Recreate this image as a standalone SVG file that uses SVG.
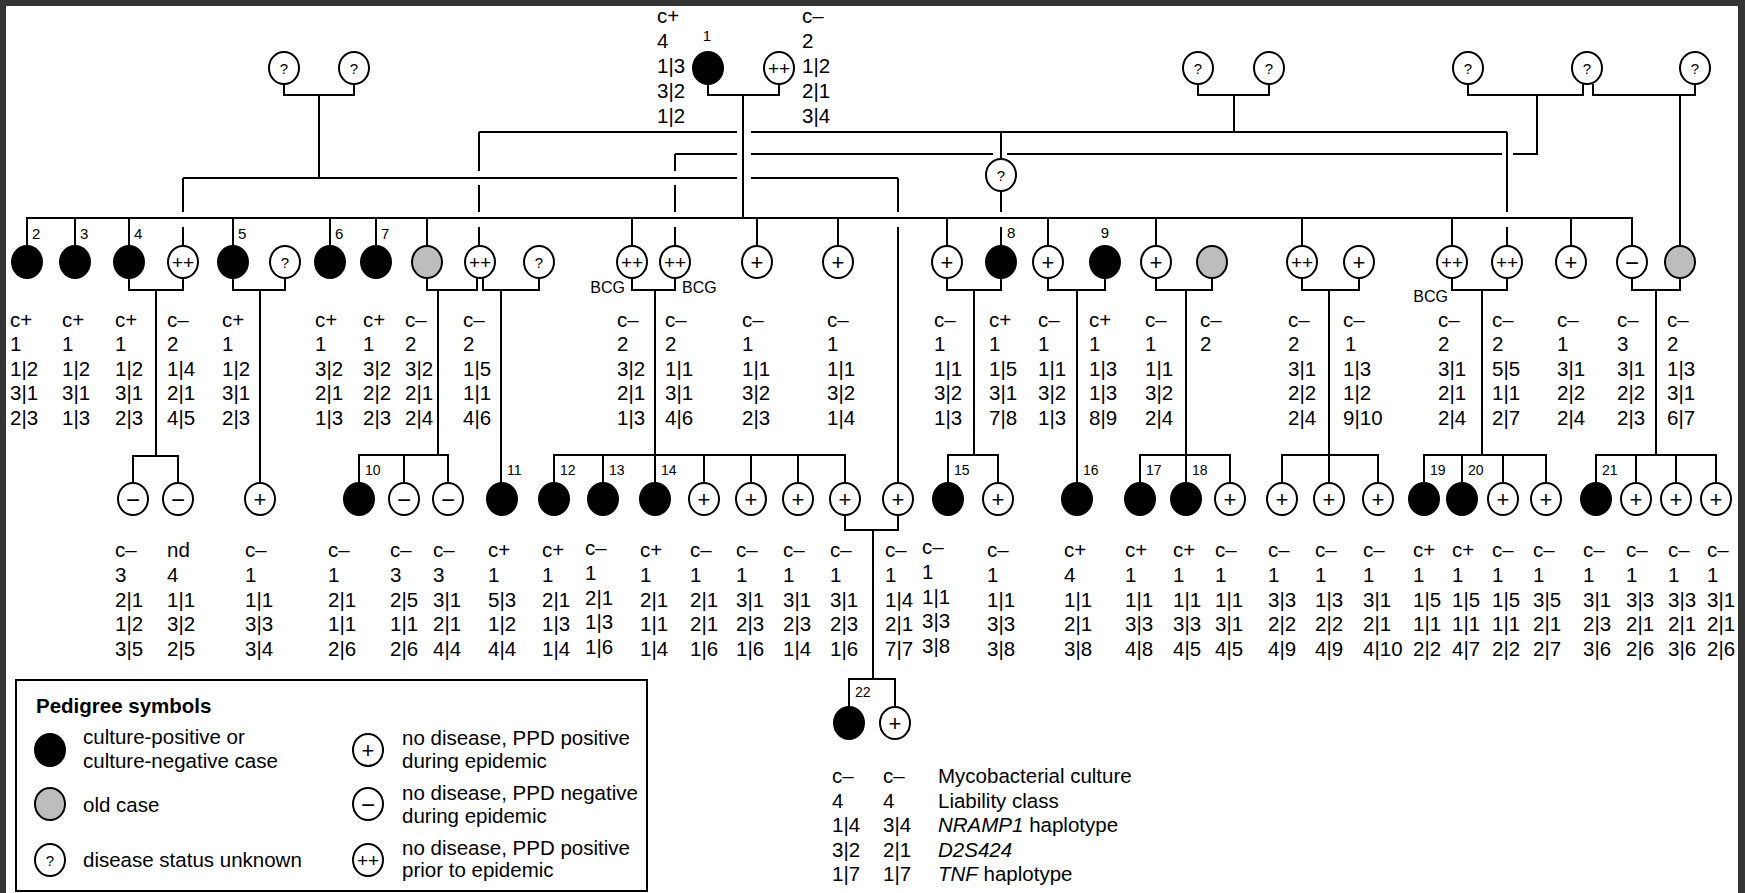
<svg xmlns="http://www.w3.org/2000/svg" width="1745" height="893" viewBox="0 0 1745 893">
<defs>
<style>
.e{stroke:#000;stroke-width:2}
.a{fill:#000}
.o{fill:#bdbdbd}
.w{fill:#fff}
.s{font-family:"Liberation Sans",Arial,sans-serif;text-anchor:middle;dominant-baseline:central;fill:#000}
.q{font-size:15px}
.p{font-size:22px}
.pp{font-size:19px}
.m{font-size:24px}
.l{font-family:"Liberation Sans",Arial,sans-serif;font-size:15px}
.l2{font-family:"Liberation Sans",Arial,sans-serif;font-size:14px}
.b{font-family:"Liberation Sans",Arial,sans-serif;font-size:16px}
.d{font-family:"Liberation Sans",Arial,sans-serif;font-size:20.5px}
.lk path{stroke:#000;stroke-width:2;fill:none}
</style>
</defs>
<rect x="0" y="0" width="1745" height="893" fill="#353535"/>
<rect x="6" y="6" width="1732" height="887" fill="#fff"/>

<g id="connectors" class="lk">
<path d="M284 84V95H354V84M319 95V178"/>
<path d="M183 178H737M751 178H898"/>
<path d="M183 178V212M183 227V246"/>
<path d="M898 178V212M898 227V483"/>
<path d="M708 84V95H779V84M743 95V218"/>
<path d="M479 132H737M751 132H1507"/>
<path d="M479 132V171M479 185V212M479 227V246"/>
<path d="M1198 84V95H1269V84M1234 95V132"/>
<path d="M1001 132V159M1001 191V212M1001 227V246"/>
<path d="M1507 132V212M1507 227V246"/>
<path d="M675 154H737M751 154H993M1007 154H1502M1513 154H1537V95"/>
<path d="M675 154V171M675 185V212M675 227V246"/>
<path d="M1468 84V95H1583V84M1593 84V95H1695V84M1680 95V246"/>
<path d="M27 246V218H1632V246M75 218V246M129 218V246M233 218V246M330 218V246M376 218V246M427 218V246M632 218V246M757 218V246M838 218V246M947 218V246M1048 218V246M1156 218V246M1302 218V246M1452 218V246M1571 218V246"/>
<path d="M129 278V290H183V278M156 290V456M133 483V456H178V483"/>
<path d="M233 278V290H285V278M260 290V483"/>
<path d="M427 278V290H477V278M483 278V290H539V278M438 290V455M359 483V455H448V483M404 455V483M501 290V483"/>
<path d="M632 278V290H675V278M655 290V483M554 483V455H845V483M603 455V483M704 455V483M751 455V483M798 455V483"/>
<path d="M947 278V290H1001V278M974 290V455M948 483V455H998V483"/>
<path d="M1048 278V290H1105V278M1077 290V483"/>
<path d="M1156 278V290H1212V278M1186 290V483M1140 483V455H1230V483"/>
<path d="M1302 278V290H1359V278M1329 290V483M1282 483V455H1378V483"/>
<path d="M1452 278V290H1507V278M1482 290V455M1424 483V455H1546V483M1462 455V483M1503 455V483"/>
<path d="M1632 278V290H1680V278M1656 290V455M1596 483V455H1716V483M1636 455V483M1676 455V483"/>
<path d="M845 515V530H898V515M873 530V679M849 707V679H895V707"/>
</g>

<!-- Generation I -->
<g id="n-u1"><ellipse class="e w" cx="284" cy="68" rx="15" ry="16"/><text class="s q" x="284" y="68">?</text></g>
<g id="n-u2"><ellipse class="e w" cx="354" cy="68" rx="15" ry="16"/><text class="s q" x="354" y="68">?</text></g>
<g id="n-1"><ellipse class="e a" cx="708" cy="68" rx="15" ry="16"/><text class="l" x="707" y="41" text-anchor="middle" font-size="13">1</text>
<text class="d"><tspan x="657" y="23">c+</tspan><tspan x="657" y="48">4</tspan><tspan x="657" y="73">1|3</tspan><tspan x="657" y="98">3|2</tspan><tspan x="657" y="122.5">1|2</tspan></text></g>
<g id="n-1s"><ellipse class="e w" cx="779" cy="68" rx="15" ry="16"/><text class="s pp" x="779" y="68">++</text>
<text class="d"><tspan x="802" y="23">c–</tspan><tspan x="802" y="48">2</tspan><tspan x="802" y="73">1|2</tspan><tspan x="802" y="98">2|1</tspan><tspan x="802" y="122.5">3|4</tspan></text></g>
<g id="n-u3"><ellipse class="e w" cx="1198" cy="68" rx="15" ry="16"/><text class="s q" x="1198" y="68">?</text></g>
<g id="n-u4"><ellipse class="e w" cx="1269" cy="68" rx="15" ry="16"/><text class="s q" x="1269" y="68">?</text></g>
<g id="n-u5"><ellipse class="e w" cx="1468" cy="68" rx="15" ry="16"/><text class="s q" x="1468" y="68">?</text></g>
<g id="n-u6"><ellipse class="e w" cx="1587" cy="68" rx="15" ry="16"/><text class="s q" x="1587" y="68">?</text></g>
<g id="n-u7"><ellipse class="e w" cx="1695" cy="68" rx="15" ry="16"/><text class="s q" x="1695" y="68">?</text></g>
<g id="n-u8"><ellipse class="e w" cx="1001" cy="175" rx="15" ry="16"/><text class="s q" x="1001" y="175">?</text></g>

<!-- Generation II -->
<g id="n-2"><ellipse class="e a" cx="27" cy="262" rx="15" ry="16"/><text class="l" x="32" y="239">2</text>
<text class="d"><tspan x="10" y="326.5">c+</tspan><tspan x="10" y="351">1</tspan><tspan x="10" y="375.5">1|2</tspan><tspan x="10" y="400">3|1</tspan><tspan x="10" y="424.5">2|3</tspan></text></g>
<g id="n-3"><ellipse class="e a" cx="75" cy="262" rx="15" ry="16"/><text class="l" x="80" y="239">3</text>
<text class="d"><tspan x="62" y="326.5">c+</tspan><tspan x="62" y="351">1</tspan><tspan x="62" y="375.5">1|2</tspan><tspan x="62" y="400">3|1</tspan><tspan x="62" y="424.5">1|3</tspan></text></g>
<g id="n-4"><ellipse class="e a" cx="129" cy="262" rx="15" ry="16"/><text class="l" x="134" y="239">4</text>
<text class="d"><tspan x="115" y="326.5">c+</tspan><tspan x="115" y="351">1</tspan><tspan x="115" y="375.5">1|2</tspan><tspan x="115" y="400">3|1</tspan><tspan x="115" y="424.5">2|3</tspan></text></g>
<g id="n-4s"><ellipse class="e w" cx="183" cy="262" rx="15" ry="16"/><text class="s pp" x="183" y="262">++</text>
<text class="d"><tspan x="167" y="326.5">c–</tspan><tspan x="167" y="351">2</tspan><tspan x="167" y="375.5">1|4</tspan><tspan x="167" y="400">2|1</tspan><tspan x="167" y="424.5">4|5</tspan></text></g>
<g id="n-5"><ellipse class="e a" cx="233" cy="262" rx="15" ry="16"/><text class="l" x="238" y="239">5</text>
<text class="d"><tspan x="222" y="326.5">c+</tspan><tspan x="222" y="351">1</tspan><tspan x="222" y="375.5">1|2</tspan><tspan x="222" y="400">3|1</tspan><tspan x="222" y="424.5">2|3</tspan></text></g>
<g id="n-5s"><ellipse class="e w" cx="285" cy="262" rx="15" ry="16"/><text class="s q" x="285" y="262">?</text></g>
<g id="n-6"><ellipse class="e a" cx="330" cy="262" rx="15" ry="16"/><text class="l" x="335" y="239">6</text>
<text class="d"><tspan x="315" y="326.5">c+</tspan><tspan x="315" y="351">1</tspan><tspan x="315" y="375.5">3|2</tspan><tspan x="315" y="400">2|1</tspan><tspan x="315" y="424.5">1|3</tspan></text></g>
<g id="n-7"><ellipse class="e a" cx="376" cy="262" rx="15" ry="16"/><text class="l" x="381" y="239">7</text>
<text class="d"><tspan x="363" y="326.5">c+</tspan><tspan x="363" y="351">1</tspan><tspan x="363" y="375.5">3|2</tspan><tspan x="363" y="400">2|2</tspan><tspan x="363" y="424.5">2|3</tspan></text></g>
<g id="n-g2a"><ellipse class="e o" cx="427" cy="262" rx="15" ry="16"/>
<text class="d"><tspan x="405" y="326.5">c–</tspan><tspan x="405" y="351">2</tspan><tspan x="405" y="375.5">3|2</tspan><tspan x="405" y="400">2|1</tspan><tspan x="405" y="424.5">2|4</tspan></text></g>
<g id="n-g2b"><ellipse class="e w" cx="480" cy="262" rx="15" ry="16"/><text class="s pp" x="480" y="262">++</text>
<text class="d"><tspan x="463" y="326.5">c–</tspan><tspan x="463" y="351">2</tspan><tspan x="463" y="375.5">1|5</tspan><tspan x="463" y="400">1|1</tspan><tspan x="463" y="424.5">4|6</tspan></text></g>
<g id="n-g2c"><ellipse class="e w" cx="539" cy="262" rx="15" ry="16"/><text class="s q" x="539" y="262">?</text></g>
<g id="n-g2d"><ellipse class="e w" cx="632" cy="262" rx="15" ry="16"/><text class="s pp" x="632" y="262">++</text><text class="b" x="625" y="293" text-anchor="end">BCG</text>
<text class="d"><tspan x="617" y="326.5">c–</tspan><tspan x="617" y="351">2</tspan><tspan x="617" y="375.5">3|2</tspan><tspan x="617" y="400">2|1</tspan><tspan x="617" y="424.5">1|3</tspan></text></g>
<g id="n-g2e"><ellipse class="e w" cx="675" cy="262" rx="15" ry="16"/><text class="s pp" x="675" y="262">++</text><text class="b" x="682" y="293">BCG</text>
<text class="d"><tspan x="665" y="326.5">c–</tspan><tspan x="665" y="351">2</tspan><tspan x="665" y="375.5">1|1</tspan><tspan x="665" y="400">3|1</tspan><tspan x="665" y="424.5">4|6</tspan></text></g>
<g id="n-g2f"><ellipse class="e w" cx="757" cy="262" rx="15" ry="16"/><text class="s p" x="757" y="262">+</text>
<text class="d"><tspan x="742" y="326.5">c–</tspan><tspan x="742" y="351">1</tspan><tspan x="742" y="375.5">1|1</tspan><tspan x="742" y="400">3|2</tspan><tspan x="742" y="424.5">2|3</tspan></text></g>
<g id="n-g2g"><ellipse class="e w" cx="838" cy="262" rx="15" ry="16"/><text class="s p" x="838" y="262">+</text>
<text class="d"><tspan x="827" y="326.5">c–</tspan><tspan x="827" y="351">1</tspan><tspan x="827" y="375.5">1|1</tspan><tspan x="827" y="400">3|2</tspan><tspan x="827" y="424.5">1|4</tspan></text></g>
<g id="n-g2h"><ellipse class="e w" cx="947" cy="262" rx="15" ry="16"/><text class="s p" x="947" y="262">+</text>
<text class="d"><tspan x="934" y="326.5">c–</tspan><tspan x="934" y="351">1</tspan><tspan x="934" y="375.5">1|1</tspan><tspan x="934" y="400">3|2</tspan><tspan x="934" y="424.5">1|3</tspan></text></g>
<g id="n-8"><ellipse class="e a" cx="1001" cy="262" rx="15" ry="16"/><text class="l" x="1007" y="238">8</text>
<text class="d"><tspan x="989" y="326.5">c+</tspan><tspan x="989" y="351">1</tspan><tspan x="989" y="375.5">1|5</tspan><tspan x="989" y="400">3|1</tspan><tspan x="989" y="424.5">7|8</tspan></text></g>
<g id="n-g2i"><ellipse class="e w" cx="1048" cy="262" rx="15" ry="16"/><text class="s p" x="1048" y="262">+</text>
<text class="d"><tspan x="1038" y="326.5">c–</tspan><tspan x="1038" y="351">1</tspan><tspan x="1038" y="375.5">1|1</tspan><tspan x="1038" y="400">3|2</tspan><tspan x="1038" y="424.5">1|3</tspan></text></g>
<g id="n-9"><ellipse class="e a" cx="1105" cy="262" rx="15" ry="16"/><text class="l" x="1105" y="238" text-anchor="middle">9</text>
<text class="d"><tspan x="1089" y="326.5">c+</tspan><tspan x="1089" y="351">1</tspan><tspan x="1089" y="375.5">1|3</tspan><tspan x="1089" y="400">1|3</tspan><tspan x="1089" y="424.5">8|9</tspan></text></g>
<g id="n-g2j"><ellipse class="e w" cx="1156" cy="262" rx="15" ry="16"/><text class="s p" x="1156" y="262">+</text>
<text class="d"><tspan x="1145" y="326.5">c–</tspan><tspan x="1145" y="351">1</tspan><tspan x="1145" y="375.5">1|1</tspan><tspan x="1145" y="400">3|2</tspan><tspan x="1145" y="424.5">2|4</tspan></text></g>
<g id="n-g2k"><ellipse class="e o" cx="1212" cy="262" rx="15" ry="16"/>
<text class="d"><tspan x="1200" y="326.5">c–</tspan><tspan x="1200" y="351">2</tspan></text></g>
<g id="n-g2l"><ellipse class="e w" cx="1302" cy="262" rx="15" ry="16"/><text class="s pp" x="1302" y="262">++</text>
<text class="d"><tspan x="1288" y="326.5">c–</tspan><tspan x="1288" y="351">2</tspan><tspan x="1288" y="375.5">3|1</tspan><tspan x="1288" y="400">2|2</tspan><tspan x="1288" y="424.5">2|4</tspan></text></g>
<g id="n-g2m"><ellipse class="e w" cx="1359" cy="262" rx="15" ry="16"/><text class="s p" x="1359" y="262">+</text>
<text class="d"><tspan x="1343" y="326.5">c–</tspan><tspan x="1345" y="351">1</tspan><tspan x="1343" y="375.5">1|3</tspan><tspan x="1343" y="400">1|2</tspan><tspan x="1343" y="424.5">9|10</tspan></text></g>
<g id="n-g2n"><ellipse class="e w" cx="1452" cy="262" rx="15" ry="16"/><text class="s pp" x="1452" y="262">++</text><text class="b" x="1448" y="302" text-anchor="end">BCG</text>
<text class="d"><tspan x="1438" y="326.5">c–</tspan><tspan x="1438" y="351">2</tspan><tspan x="1438" y="375.5">3|1</tspan><tspan x="1438" y="400">2|1</tspan><tspan x="1438" y="424.5">2|4</tspan></text></g>
<g id="n-g2o"><ellipse class="e w" cx="1507" cy="262" rx="15" ry="16"/><text class="s pp" x="1507" y="262">++</text>
<text class="d"><tspan x="1492" y="326.5">c–</tspan><tspan x="1492" y="351">2</tspan><tspan x="1492" y="375.5">5|5</tspan><tspan x="1492" y="400">1|1</tspan><tspan x="1492" y="424.5">2|7</tspan></text></g>
<g id="n-g2p"><ellipse class="e w" cx="1571" cy="262" rx="15" ry="16"/><text class="s p" x="1571" y="262">+</text>
<text class="d"><tspan x="1557" y="326.5">c–</tspan><tspan x="1557" y="351">1</tspan><tspan x="1557" y="375.5">3|1</tspan><tspan x="1557" y="400">2|2</tspan><tspan x="1557" y="424.5">2|4</tspan></text></g>
<g id="n-g2q"><ellipse class="e w" cx="1632" cy="262" rx="15" ry="16"/><text class="s m" x="1632" y="262">−</text>
<text class="d"><tspan x="1617" y="326.5">c–</tspan><tspan x="1617" y="351">3</tspan><tspan x="1617" y="375.5">3|1</tspan><tspan x="1617" y="400">2|2</tspan><tspan x="1617" y="424.5">2|3</tspan></text></g>
<g id="n-g2r"><ellipse class="e o" cx="1680" cy="262" rx="15" ry="16"/>
<text class="d"><tspan x="1667" y="326.5">c–</tspan><tspan x="1667" y="351">2</tspan><tspan x="1667" y="375.5">1|3</tspan><tspan x="1667" y="400">3|1</tspan><tspan x="1667" y="424.5">6|7</tspan></text></g>

<!-- Generation III -->
<g id="n-g3a"><ellipse class="e w" cx="133" cy="499" rx="15" ry="16"/><text class="s m" x="133" y="499">−</text>
<text class="d"><tspan x="115" y="557">c–</tspan><tspan x="115" y="582">3</tspan><tspan x="115" y="606.5">2|1</tspan><tspan x="115" y="631">1|2</tspan><tspan x="115" y="655.5">3|5</tspan></text></g>
<g id="n-g3b"><ellipse class="e w" cx="178" cy="499" rx="15" ry="16"/><text class="s m" x="178" y="499">−</text>
<text class="d"><tspan x="167" y="557">nd</tspan><tspan x="167" y="582">4</tspan><tspan x="167" y="606.5">1|1</tspan><tspan x="167" y="631">3|2</tspan><tspan x="167" y="655.5">2|5</tspan></text></g>
<g id="n-g3c"><ellipse class="e w" cx="260" cy="499" rx="15" ry="16"/><text class="s p" x="260" y="499">+</text>
<text class="d"><tspan x="245" y="557">c–</tspan><tspan x="245" y="582">1</tspan><tspan x="245" y="606.5">1|1</tspan><tspan x="245" y="631">3|3</tspan><tspan x="245" y="655.5">3|4</tspan></text></g>
<g id="n-10"><ellipse class="e a" cx="359" cy="499" rx="15" ry="16"/><text class="l2" x="365" y="475">10</text>
<text class="d"><tspan x="328" y="557">c–</tspan><tspan x="328" y="582">1</tspan><tspan x="328" y="606.5">2|1</tspan><tspan x="328" y="631">1|1</tspan><tspan x="328" y="655.5">2|6</tspan></text></g>
<g id="n-g3d"><ellipse class="e w" cx="404" cy="499" rx="15" ry="16"/><text class="s m" x="404" y="499">−</text>
<text class="d"><tspan x="390" y="557">c–</tspan><tspan x="390" y="582">3</tspan><tspan x="390" y="606.5">2|5</tspan><tspan x="390" y="631">1|1</tspan><tspan x="390" y="655.5">2|6</tspan></text></g>
<g id="n-g3e"><ellipse class="e w" cx="448" cy="499" rx="15" ry="16"/><text class="s m" x="448" y="499">−</text>
<text class="d"><tspan x="433" y="557">c–</tspan><tspan x="433" y="582">3</tspan><tspan x="433" y="606.5">3|1</tspan><tspan x="433" y="631">2|1</tspan><tspan x="433" y="655.5">4|4</tspan></text></g>
<g id="n-11"><ellipse class="e a" cx="502" cy="499" rx="15" ry="16"/><text class="l2" x="507" y="475">11</text>
<text class="d"><tspan x="488" y="557">c+</tspan><tspan x="488" y="582">1</tspan><tspan x="488" y="606.5">5|3</tspan><tspan x="488" y="631">1|2</tspan><tspan x="488" y="655.5">4|4</tspan></text></g>
<g id="n-12"><ellipse class="e a" cx="554" cy="499" rx="15" ry="16"/><text class="l2" x="560" y="475">12</text>
<text class="d"><tspan x="542" y="557">c+</tspan><tspan x="542" y="582">1</tspan><tspan x="542" y="606.5">2|1</tspan><tspan x="542" y="631">1|3</tspan><tspan x="542" y="655.5">1|4</tspan></text></g>
<g id="n-13"><ellipse class="e a" cx="603" cy="499" rx="15" ry="16"/><text class="l2" x="609" y="475">13</text>
<text class="d"><tspan x="585" y="555">c–</tspan><tspan x="585" y="580">1</tspan><tspan x="585" y="604.5">2|1</tspan><tspan x="585" y="629">1|3</tspan><tspan x="585" y="653.5">1|6</tspan></text></g>
<g id="n-14"><ellipse class="e a" cx="655" cy="499" rx="15" ry="16"/><text class="l2" x="661" y="475">14</text>
<text class="d"><tspan x="640" y="557">c+</tspan><tspan x="640" y="582">1</tspan><tspan x="640" y="606.5">2|1</tspan><tspan x="640" y="631">1|1</tspan><tspan x="640" y="655.5">1|4</tspan></text></g>
<g id="n-g3f"><ellipse class="e w" cx="704" cy="499" rx="15" ry="16"/><text class="s p" x="704" y="499">+</text>
<text class="d"><tspan x="690" y="557">c–</tspan><tspan x="690" y="582">1</tspan><tspan x="690" y="606.5">2|1</tspan><tspan x="690" y="631">2|1</tspan><tspan x="690" y="655.5">1|6</tspan></text></g>
<g id="n-g3g"><ellipse class="e w" cx="751" cy="499" rx="15" ry="16"/><text class="s p" x="751" y="499">+</text>
<text class="d"><tspan x="736" y="557">c–</tspan><tspan x="736" y="582">1</tspan><tspan x="736" y="606.5">3|1</tspan><tspan x="736" y="631">2|3</tspan><tspan x="736" y="655.5">1|6</tspan></text></g>
<g id="n-g3h"><ellipse class="e w" cx="798" cy="499" rx="15" ry="16"/><text class="s p" x="798" y="499">+</text>
<text class="d"><tspan x="783" y="557">c–</tspan><tspan x="783" y="582">1</tspan><tspan x="783" y="606.5">3|1</tspan><tspan x="783" y="631">2|3</tspan><tspan x="783" y="655.5">1|4</tspan></text></g>
<g id="n-g3i"><ellipse class="e w" cx="845" cy="499" rx="15" ry="16"/><text class="s p" x="845" y="499">+</text>
<text class="d"><tspan x="830" y="557">c–</tspan><tspan x="830" y="582">1</tspan><tspan x="830" y="606.5">3|1</tspan><tspan x="830" y="631">2|3</tspan><tspan x="830" y="655.5">1|6</tspan></text></g>
<g id="n-g3j"><ellipse class="e w" cx="898" cy="499" rx="15" ry="16"/><text class="s p" x="898" y="499">+</text>
<text class="d"><tspan x="885" y="557">c–</tspan><tspan x="885" y="582">1</tspan><tspan x="885" y="606.5">1|4</tspan><tspan x="885" y="631">2|1</tspan><tspan x="885" y="655.5">7|7</tspan></text></g>
<g id="n-15"><ellipse class="e a" cx="948" cy="499" rx="15" ry="16"/><text class="l2" x="954" y="475">15</text>
<text class="d"><tspan x="922" y="554">c–</tspan><tspan x="922" y="579">1</tspan><tspan x="922" y="603.5">1|1</tspan><tspan x="922" y="628">3|3</tspan><tspan x="922" y="652.5">3|8</tspan></text></g>
<g id="n-g3k"><ellipse class="e w" cx="998" cy="499" rx="15" ry="16"/><text class="s p" x="998" y="499">+</text>
<text class="d"><tspan x="987" y="557">c–</tspan><tspan x="987" y="582">1</tspan><tspan x="987" y="606.5">1|1</tspan><tspan x="987" y="631">3|3</tspan><tspan x="987" y="655.5">3|8</tspan></text></g>
<g id="n-16"><ellipse class="e a" cx="1077" cy="499" rx="15" ry="16"/><text class="l2" x="1083" y="475">16</text>
<text class="d"><tspan x="1064" y="557">c+</tspan><tspan x="1064" y="582">4</tspan><tspan x="1064" y="606.5">1|1</tspan><tspan x="1064" y="631">2|1</tspan><tspan x="1064" y="655.5">3|8</tspan></text></g>
<g id="n-17"><ellipse class="e a" cx="1140" cy="499" rx="15" ry="16"/><text class="l2" x="1146" y="475">17</text>
<text class="d"><tspan x="1125" y="557">c+</tspan><tspan x="1125" y="582">1</tspan><tspan x="1125" y="606.5">1|1</tspan><tspan x="1125" y="631">3|3</tspan><tspan x="1125" y="655.5">4|8</tspan></text></g>
<g id="n-18"><ellipse class="e a" cx="1186" cy="499" rx="15" ry="16"/><text class="l2" x="1192" y="475">18</text>
<text class="d"><tspan x="1173" y="557">c+</tspan><tspan x="1173" y="582">1</tspan><tspan x="1173" y="606.5">1|1</tspan><tspan x="1173" y="631">3|3</tspan><tspan x="1173" y="655.5">4|5</tspan></text></g>
<g id="n-g3l"><ellipse class="e w" cx="1230" cy="499" rx="15" ry="16"/><text class="s p" x="1230" y="499">+</text>
<text class="d"><tspan x="1215" y="557">c–</tspan><tspan x="1215" y="582">1</tspan><tspan x="1215" y="606.5">1|1</tspan><tspan x="1215" y="631">3|1</tspan><tspan x="1215" y="655.5">4|5</tspan></text></g>
<g id="n-g3m"><ellipse class="e w" cx="1282" cy="499" rx="15" ry="16"/><text class="s p" x="1282" y="499">+</text>
<text class="d"><tspan x="1268" y="557">c–</tspan><tspan x="1268" y="582">1</tspan><tspan x="1268" y="606.5">3|3</tspan><tspan x="1268" y="631">2|2</tspan><tspan x="1268" y="655.5">4|9</tspan></text></g>
<g id="n-g3n"><ellipse class="e w" cx="1329" cy="499" rx="15" ry="16"/><text class="s p" x="1329" y="499">+</text>
<text class="d"><tspan x="1315" y="557">c–</tspan><tspan x="1315" y="582">1</tspan><tspan x="1315" y="606.5">1|3</tspan><tspan x="1315" y="631">2|2</tspan><tspan x="1315" y="655.5">4|9</tspan></text></g>
<g id="n-g3o"><ellipse class="e w" cx="1378" cy="499" rx="15" ry="16"/><text class="s p" x="1378" y="499">+</text>
<text class="d"><tspan x="1363" y="557">c–</tspan><tspan x="1363" y="582">1</tspan><tspan x="1363" y="606.5">3|1</tspan><tspan x="1363" y="631">2|1</tspan><tspan x="1363" y="655.5">4|10</tspan></text></g>
<g id="n-19"><ellipse class="e a" cx="1424" cy="499" rx="15" ry="16"/><text class="l2" x="1430" y="475">19</text>
<text class="d"><tspan x="1413" y="557">c+</tspan><tspan x="1413" y="582">1</tspan><tspan x="1413" y="606.5">1|5</tspan><tspan x="1413" y="631">1|1</tspan><tspan x="1413" y="655.5">2|2</tspan></text></g>
<g id="n-20"><ellipse class="e a" cx="1462" cy="499" rx="15" ry="16"/><text class="l2" x="1468" y="475">20</text>
<text class="d"><tspan x="1452" y="557">c+</tspan><tspan x="1452" y="582">1</tspan><tspan x="1452" y="606.5">1|5</tspan><tspan x="1452" y="631">1|1</tspan><tspan x="1452" y="655.5">4|7</tspan></text></g>
<g id="n-g3p"><ellipse class="e w" cx="1503" cy="499" rx="15" ry="16"/><text class="s p" x="1503" y="499">+</text>
<text class="d"><tspan x="1492" y="557">c–</tspan><tspan x="1492" y="582">1</tspan><tspan x="1492" y="606.5">1|5</tspan><tspan x="1492" y="631">1|1</tspan><tspan x="1492" y="655.5">2|2</tspan></text></g>
<g id="n-g3q"><ellipse class="e w" cx="1546" cy="499" rx="15" ry="16"/><text class="s p" x="1546" y="499">+</text>
<text class="d"><tspan x="1533" y="557">c–</tspan><tspan x="1533" y="582">1</tspan><tspan x="1533" y="606.5">3|5</tspan><tspan x="1533" y="631">2|1</tspan><tspan x="1533" y="655.5">2|7</tspan></text></g>
<g id="n-21"><ellipse class="e a" cx="1596" cy="499" rx="15" ry="16"/><text class="l2" x="1602" y="475">21</text>
<text class="d"><tspan x="1583" y="557">c–</tspan><tspan x="1583" y="582">1</tspan><tspan x="1583" y="606.5">3|1</tspan><tspan x="1583" y="631">2|3</tspan><tspan x="1583" y="655.5">3|6</tspan></text></g>
<g id="n-g3r"><ellipse class="e w" cx="1636" cy="499" rx="15" ry="16"/><text class="s p" x="1636" y="499">+</text>
<text class="d"><tspan x="1626" y="557">c–</tspan><tspan x="1626" y="582">1</tspan><tspan x="1626" y="606.5">3|3</tspan><tspan x="1626" y="631">2|1</tspan><tspan x="1626" y="655.5">2|6</tspan></text></g>
<g id="n-g3s"><ellipse class="e w" cx="1676" cy="499" rx="15" ry="16"/><text class="s p" x="1676" y="499">+</text>
<text class="d"><tspan x="1668" y="557">c–</tspan><tspan x="1668" y="582">1</tspan><tspan x="1668" y="606.5">3|3</tspan><tspan x="1668" y="631">2|1</tspan><tspan x="1668" y="655.5">3|6</tspan></text></g>
<g id="n-g3t"><ellipse class="e w" cx="1716" cy="499" rx="15" ry="16"/><text class="s p" x="1716" y="499">+</text>
<text class="d"><tspan x="1707" y="557">c–</tspan><tspan x="1707" y="582">1</tspan><tspan x="1707" y="606.5">3|1</tspan><tspan x="1707" y="631">2|1</tspan><tspan x="1707" y="655.5">2|6</tspan></text></g>

<!-- Generation IV -->
<g id="n-22"><ellipse class="e a" cx="849" cy="723" rx="15" ry="16"/><text class="l2" x="855" y="697">22</text>
<text class="d"><tspan x="832" y="783">c–</tspan><tspan x="832" y="807.5">4</tspan><tspan x="832" y="832">1|4</tspan><tspan x="832" y="856.5">3|2</tspan><tspan x="832" y="881">1|7</tspan></text></g>
<g id="n-g4a"><ellipse class="e w" cx="895" cy="723" rx="15" ry="16"/><text class="s p" x="895" y="723">+</text>
<text class="d"><tspan x="883" y="783">c–</tspan><tspan x="883" y="807.5">4</tspan><tspan x="883" y="832">3|4</tspan><tspan x="883" y="856.5">2|1</tspan><tspan x="883" y="881">1|7</tspan></text></g>
<g id="key-data">
<text class="d"><tspan x="938" y="783">Mycobacterial culture</tspan><tspan x="938" y="807.5">Liability class</tspan><tspan x="938" y="832"><tspan font-style="italic">NRAMP1</tspan> haplotype</tspan><tspan x="938" y="856.5" font-style="italic">D2S424</tspan><tspan x="938" y="881"><tspan font-style="italic">TNF</tspan> haplotype</tspan></text>
</g>

<!-- Legend -->
<g id="legend">
<rect x="16" y="680" width="631" height="211" fill="#fff" stroke="#000" stroke-width="2"/>
<text class="d" x="36" y="713" font-weight="bold">Pedigree symbols</text>
<ellipse class="e a" cx="50" cy="750" rx="15" ry="16"/>
<text class="d"><tspan x="83" y="744">culture-positive or</tspan><tspan x="83" y="768">culture-negative case</tspan></text>
<ellipse class="e o" cx="50" cy="804" rx="15" ry="16"/>
<text class="d" x="83" y="812">old case</text>
<ellipse class="e w" cx="50" cy="860" rx="15" ry="16"/><text class="s q" x="50" y="860">?</text>
<text class="d" x="83" y="867">disease status unknown</text>
<ellipse class="e w" cx="368" cy="750" rx="15" ry="16"/><text class="s p" x="368" y="750">+</text>
<text class="d"><tspan x="402" y="745">no disease, PPD positive</tspan><tspan x="402" y="768">during epidemic</tspan></text>
<ellipse class="e w" cx="368" cy="804" rx="15" ry="16"/><text class="s m" x="368" y="804">−</text>
<text class="d"><tspan x="402" y="800">no disease, PPD negative</tspan><tspan x="402" y="823">during epidemic</tspan></text>
<ellipse class="e w" cx="368" cy="860" rx="15" ry="16"/><text class="s pp" x="368" y="860">++</text>
<text class="d"><tspan x="402" y="855">no disease, PPD positive</tspan><tspan x="402" y="877">prior to epidemic</tspan></text>
</g>
</svg>
